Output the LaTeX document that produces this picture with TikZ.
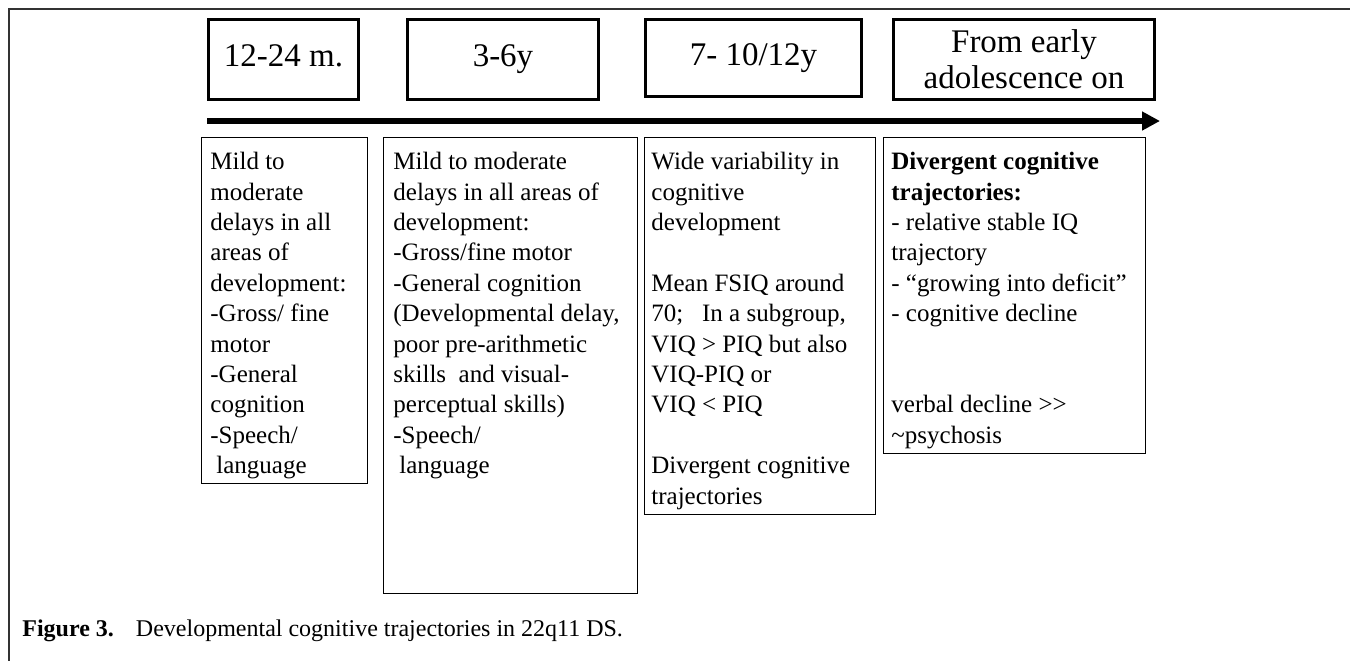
\documentclass[tikz,border=0pt]{standalone}
\usepackage{fontspec}
\setmainfont{Liberation Serif}
\usetikzlibrary{arrows.meta}

\begin{document}
\begin{tikzpicture}[x=0.5pt,y=-0.5pt,
  agebox/.style={draw,line width=1.5pt,anchor=north west,inner sep=0pt,align=center,font=\fontsize{16.5}{18}\selectfont},
  infobox/.style={draw,line width=0.6pt,anchor=north west,inner sep=0pt},
  infotext/.style={anchor=north west,inner sep=0pt,align=left,font=\fontsize{12.5}{15.2}\selectfont}]
\useasboundingbox (0,0) rectangle (1350,661);
\draw[line width=0.7pt,black!80] (1350,9) -- (9,9) -- (9,661);
\node[agebox,minimum width=75pt,minimum height=40pt] (tod) at (207,18) {\strut 12-24 m.};
\node[agebox,minimum width=95.5pt,minimum height=40pt] (pre) at (406,18) {\strut 3-6y};
\node[agebox,minimum width=108pt,minimum height=38.5pt] (sch) at (644,18) {\strut 7- 10/12y};
\node[agebox,minimum width=130.5pt,minimum height=40pt] (adol) at (892,18) {From early\\adolescence on};
\coordinate (t0) at (207,121);
\coordinate (t1) at (1160,121);
\draw[line width=3pt,-{Triangle[length=9pt,width=9pt]}] (t0) -- (t1);
\node[infobox,minimum width=83pt,minimum height=173pt] (boxa) at (201,137) {};
\node[infobox,minimum width=127pt,minimum height=228pt] (boxb) at (383,137) {};
\node[infobox,minimum width=115.5pt,minimum height=188.5pt] (boxc) at (644,137) {};
\node[infobox,minimum width=131pt,minimum height=158pt] (boxd) at (883,137) {};
\node[infotext] (texta) at ([xshift=4.5pt,yshift=-7.5pt]boxa.north west) {Mild to\\moderate\\delays in all\\areas of\\development:\\-Gross/ fine\\motor\\-General\\cognition\\-Speech/\\\hspace*{3pt}language};
\node[infotext] (textb) at ([xshift=5pt,yshift=-7.5pt]boxb.north west) {Mild to moderate\\delays in all areas of\\development:\\-Gross/fine motor\\-General cognition\\(Developmental delay,\\poor pre-arithmetic\\skills\ \ and visual-\\perceptual skills)\\-Speech/\\\hspace*{3pt}language};
\node[infotext] (textc) at ([xshift=3.5pt,yshift=-7.5pt]boxc.north west) {Wide variability in\\cognitive\\development\\[15.2pt]Mean FSIQ around\\70;\ \ \ In a subgroup,\\VIQ > PIQ but also\\VIQ-PIQ or\\VIQ < PIQ\\[15.2pt]Divergent cognitive\\trajectories};
\node[infotext] (textd) at ([xshift=4pt,yshift=-7.5pt]boxd.north west) {\textbf{Divergent cognitive}\\\textbf{trajectories:}\\- relative stable IQ\\trajectory\\- ``growing into deficit''\\- cognitive decline\\[30.4pt]verbal decline >\kern0pt>\\\textasciitilde psychosis};
\node[anchor=base west,inner sep=0pt,font=\fontsize{12}{14}\selectfont] (caption) at (22,636) {\textbf{Figure 3.}\hspace{11pt}Developmental cognitive trajectories in 22q11 DS.};
\end{tikzpicture}
\end{document}
